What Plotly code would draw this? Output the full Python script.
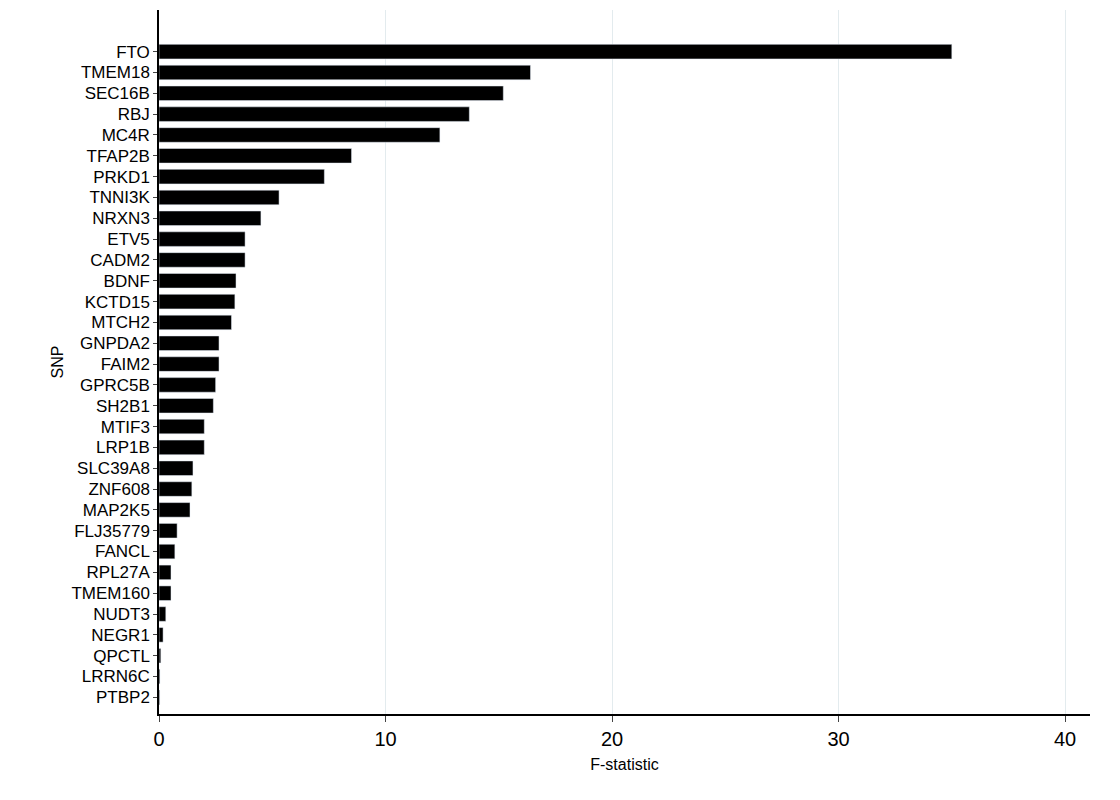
import plotly.graph_objects as go

# SNP names, top to bottom
snps = ["FTO", "TMEM18", "SEC16B", "RBJ", "MC4R", "TFAP2B", "PRKD1", "TNNI3K",
        "NRXN3", "ETV5", "CADM2", "BDNF", "KCTD15", "MTCH2", "GNPDA2", "FAIM2",
        "GPRC5B", "SH2B1", "MTIF3", "LRP1B", "SLC39A8", "ZNF608", "MAP2K5",
        "FLJ35779", "FANCL", "RPL27A", "TMEM160", "NUDT3", "NEGR1", "QPCTL",
        "LRRN6C", "PTBP2"]
# F-statistic values
f_stat = [35.0, 16.4, 15.2, 13.7, 12.4, 8.5, 7.3, 5.3,
          4.5, 3.8, 3.8, 3.4, 3.35, 3.2, 2.65, 2.65,
          2.5, 2.4, 2.0, 2.0, 1.5, 1.45, 1.37,
          0.8, 0.7, 0.53, 0.53, 0.3, 0.18, 0.08,
          0.04, 0.03]

fig = go.Figure(go.Bar(x=f_stat, y=snps, orientation="h",
                       marker_color="black", width=0.7))

fig.update_layout(
    width=1120, height=800,
    plot_bgcolor="white", paper_bgcolor="white",
    margin=dict(l=151, r=38, t=2, b=94),
    font=dict(family="Liberation Sans, Arial", color="black"),
    showlegend=False,
)
fig.update_xaxes(range=[0, 41.1], tickvals=[0, 10, 20, 30, 40],
                 showgrid=True, gridcolor="#e3ebee", zeroline=False,
                 showline=True, linecolor="black", linewidth=1.5,
                 ticks="outside", ticklen=6, tickfont=dict(size=20),
                 title=dict(text="F-statistic", font=dict(size=16), standoff=10))
fig.update_yaxes(type="category", range=[31.8, -2],
                 showgrid=False, showline=True, linecolor="black", linewidth=1.5,
                 ticks="outside", ticklen=4, tickfont=dict(size=17),
                 title=dict(text="SNP", font=dict(size=16), standoff=4))

fig.write_html("out.html")
